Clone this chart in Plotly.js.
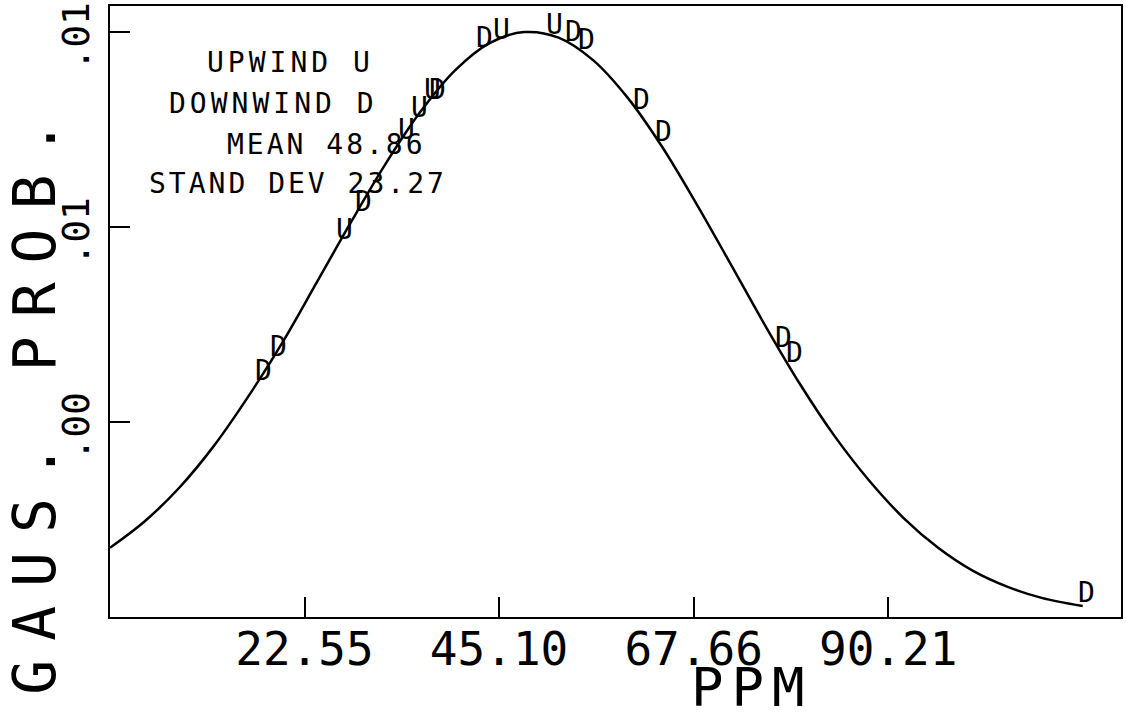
<!DOCTYPE html>
<html>
<head>
<meta charset="utf-8">
<script src="https://cdn.plot.ly/plotly-3.0.1.min.js"></script>
<style>
  html, body { margin: 0; padding: 0; background: #fff; }
  #chart { width: 1126px; height: 720px; }
  g.annotation[data-index="0"] text { letter-spacing: 19px; }
  g.annotation[data-index="1"] text { letter-spacing: 8px; }
  g.annotation[data-index="2"] text,
  g.annotation[data-index="3"] text { letter-spacing: 4px; }
  g.annotation[data-index="4"] text,
  g.annotation[data-index="5"] text { letter-spacing: 3px; }
  g.textpoint text { transform: translate(-2px, 6px); }
  g.ytick { transform: translate(0px, 10px); }
</style>
</head>
<body>
<div id="chart"></div>
<script>
// Fitted Gaussian curve
const curveX = [0, 4, 8, 12, 16, 20, 24, 28, 32, 36, 40, 44, 48, 52, 56, 60, 64, 68, 72, 76,
  80, 84, 88, 92, 96, 100, 104, 108, 112.76];
const curveY = [0.00203, 0.00280, 0.00378, 0.00500, 0.00645, 0.00805, 0.00982, 0.01160, 0.01330,
  0.01481, 0.01602, 0.01682, 0.01714, 0.01698, 0.01632, 0.01522, 0.01378, 0.01210, 0.01032,
  0.00852, 0.00682, 0.00530, 0.00400, 0.00290, 0.00203, 0.00136, 0.00089, 0.00056, 0.00032];

// Upwind observations (plotted as "U")
const upwindX = [26.43, 33.62, 35.13, 36.63, 44.63, 50.78];
const upwindY = [0.01105, 0.01398, 0.01462, 0.01515, 0.01691, 0.01705];

// Downwind observations (plotted as "D")
const downwindX = [17.04, 18.78, 28.63, 37.21, 42.66, 52.98, 54.49, 60.86, 63.41, 77.32, 78.60, 112.45];
const downwindY = [0.00692, 0.00762, 0.01187, 0.01515, 0.01667, 0.01685, 0.01662, 0.01486, 0.01392, 0.00788, 0.00744, 0.00041];

// Axis ticks
const xTickVals = [22.55, 45.10, 67.66, 90.21];
const xTickText = ["22.55", "45.10", "67.66", "90.21"];
const yTickVals = [0.005714, 0.011428, 0.017142];
const yTickText = [".00", ".01", ".01"];

// Text block
const infoLines = ["UPWIND U", "DOWNWIND D", "MEAN 48.86", "STAND DEV 23.27"];
const yTitle = "GAUS. PROB.";
const xTitle = "PPM";

const FONT = "'DejaVu Sans Mono', 'Liberation Mono', monospace";

const traces = [
  {
    x: curveX, y: curveY, type: 'scatter', mode: 'lines',
    line: { color: '#000', width: 2.5, shape: 'spline', smoothing: 1 },
    hoverinfo: 'skip'
  },
  {
    x: upwindX, y: upwindY, type: 'scatter', mode: 'text',
    text: upwindX.map(() => 'U'), textposition: 'top right',
    textfont: { family: FONT, size: 28, color: '#000' }
  },
  {
    x: downwindX, y: downwindY, type: 'scatter', mode: 'text',
    text: downwindX.map(() => 'D'), textposition: 'top right',
    textfont: { family: FONT, size: 28, color: '#000' }
  }
];

const infoPos = [
  { x: 0.094, y: 0.908 },
  { x: 0.0564, y: 0.841 },
  { x: 0.1137, y: 0.774 },
  { x: 0.0366, y: 0.7087 }
];

const annotations = [
  { text: yTitle, xref: 'paper', yref: 'paper', x: -0.0742, y: 0.358, textangle: -90,
    showarrow: false, xanchor: 'center', yanchor: 'middle', font: { family: FONT, size: 58, color: '#000' } },
  { text: xTitle, xref: 'paper', yref: 'paper', x: 0.635, y: -0.1146,
    showarrow: false, xanchor: 'center', yanchor: 'middle', font: { family: FONT, size: 54, color: '#000' } }
].concat(infoLines.map((t, i) => ({
  text: t, xref: 'paper', yref: 'paper', x: infoPos[i].x, y: infoPos[i].y,
  showarrow: false, xanchor: 'left', yanchor: 'middle', align: 'left',
  font: { family: FONT, size: 28, color: '#000' }
})));

const layout = {
  width: 1126, height: 720,
  margin: { l: 110, r: 5, t: 6, b: 103, pad: 0 },
  paper_bgcolor: '#fff', plot_bgcolor: '#fff',
  showlegend: false,
  font: { family: FONT, color: '#000' },
  xaxis: {
    range: [0, 117.2], tickvals: xTickVals, ticktext: xTickText,
    ticks: 'inside', ticklen: 20, tickwidth: 2, tickcolor: '#000',
    showline: true, linewidth: 2, linecolor: '#000', mirror: true,
    showgrid: false, zeroline: false,
    tickfont: { family: FONT, size: 46, color: '#000' }, ticklabelstandoff: -9,
    ticklabeloverflow: 'allow'
  },
  yaxis: {
    range: [0, 0.017905], tickvals: yTickVals, ticktext: yTickText,
    ticks: 'inside', ticklen: 20, tickwidth: 2, tickcolor: '#000',
    showline: true, linewidth: 2, linecolor: '#000', mirror: true,
    showgrid: false, zeroline: false, tickangle: -90,
    tickfont: { family: FONT, size: 38, color: '#000' }, ticklabelstandoff: 4,
    ticklabeloverflow: 'allow'
  },
  annotations: annotations
};

Plotly.newPlot('chart', traces, layout, { displayModeBar: false, staticPlot: true });
</script>
</body>
</html>
